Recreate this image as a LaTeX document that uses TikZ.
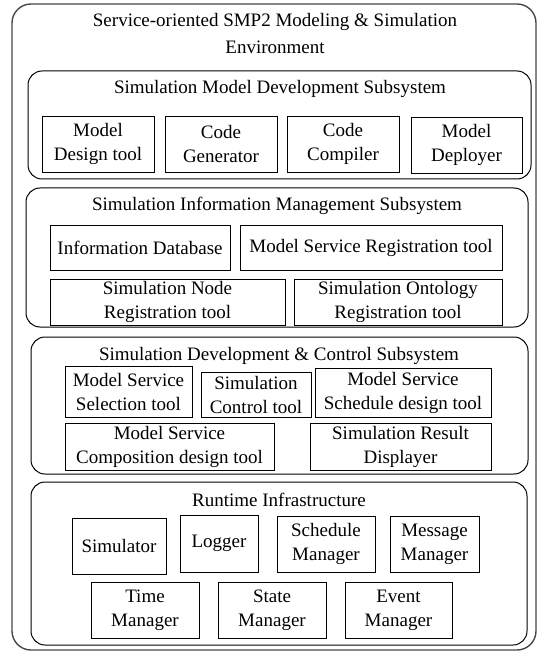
\documentclass[tikz,border=0pt]{standalone}
\usepackage{fontspec}
\setmainfont{Liberation Serif}
\tikzset{
  frame/.style={draw=black!72, line width=1.4pt, rounded corners=19pt, inner sep=0pt},
  subsys/.style={draw=black, line width=1pt, rounded corners=14pt, inner sep=0pt},
  tool/.style={draw=black, line width=0.9pt, inner sep=0pt, align=center,
    font=\fontsize{19}{24}\selectfont},
  heading/.style={inner sep=0pt, align=center, font=\fontsize{19}{27}\selectfont}
}
% box given by its corners: name, x1, y1, x2, y2, style, text
\newcommand\cornerbox[7]{%
  \node[#6, minimum width={(#4-#2)*1pt}, minimum height={(#5-#3)*1pt}]
    (#1) at ({(#2+#4)/2},{(#3+#5)/2}) {#7};}
\begin{document}
\begin{tikzpicture}[x=1pt, y=-1pt]
\useasboundingbox (0,0) rectangle (539,652);

% outer environment
\cornerbox{env}{12}{4}{536}{650}{frame}{}
\node[heading] (envtitle) at (275,34) {Service-oriented SMP2 Modeling \& Simulation\\Environment};

% simulation model development subsystem
\cornerbox{smd}{28}{71}{531}{179}{subsys}{}
\node[heading] (smdtitle) at (280,89) {Simulation Model Development Subsystem};
\cornerbox{mdt}{42}{116}{154}{172}{tool}{Model\\Design tool}
\cornerbox{cgen}{165}{116}{277}{172}{tool}{Code\\Generator}
\cornerbox{ccomp}{287}{116}{399}{172}{tool}{Code\\Compiler}
\cornerbox{mdep}{411}{117}{522}{173}{tool}{Model\\Deployer}

% simulation information management subsystem
\cornerbox{sim}{26}{188}{528}{327}{subsys}{}
\node[heading] (simtitle) at (277,206) {Simulation Information Management Subsystem};
\cornerbox{idb}{50}{225}{230}{270}{tool}{Information Database}
\cornerbox{msreg}{240}{225}{502}{270}{tool}{Model Service Registration tool}
\cornerbox{snreg}{50}{279}{285}{325}{tool}{Simulation Node\\Registration tool}
\cornerbox{soreg}{294}{279}{502}{325}{tool}{Simulation Ontology\\Registration tool}

% simulation development & control subsystem
\cornerbox{sdc}{31}{337}{528}{474}{subsys}{}
\node[heading] (sdctitle) at (279,356) {Simulation Development \& Control Subsystem};
\cornerbox{mssel}{65}{366}{192}{417}{tool}{Model Service\\Selection tool}
\cornerbox{sctl}{201}{372}{311}{417}{tool}{Simulation\\Control tool}
\cornerbox{mssch}{315}{368}{491}{417}{tool}{Model Service\\Schedule design tool}
\cornerbox{mscomp}{65}{423}{274}{470}{tool}{Model Service\\Composition design tool}
\cornerbox{srd}{310}{423}{491}{470}{tool}{Simulation Result\\Displayer}

% runtime infrastructure
\cornerbox{rti}{31}{482}{527}{645}{subsys}{}
\node[heading] (rtititle) at (279,500) {Runtime Infrastructure};
\cornerbox{simr}{72}{518}{166}{574}{tool}{Simulator}
\cornerbox{logr}{180}{515}{258}{572}{tool}{Logger}
\cornerbox{schm}{277}{516}{375}{572}{tool}{Schedule\\Manager}
\cornerbox{msgm}{390}{516}{479}{572}{tool}{Message\\Manager}
\cornerbox{timem}{91}{582}{199}{638}{tool}{Time\\Manager}
\cornerbox{statem}{218}{582}{326}{638}{tool}{State\\Manager}
\cornerbox{eventm}{345}{582}{452}{638}{tool}{Event\\Manager}
\end{tikzpicture}
\end{document}
